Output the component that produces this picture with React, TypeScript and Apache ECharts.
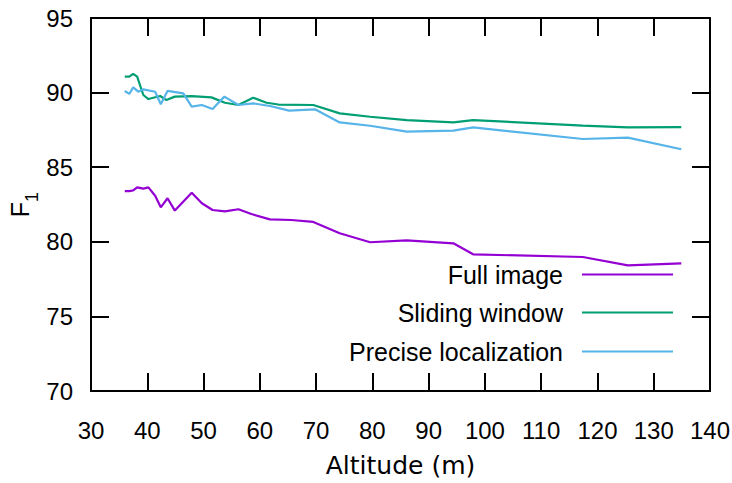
import React, { useEffect, useRef } from "react";
import * as echarts from "echarts";

const fullAlt = [36.0, 36.8, 37.5, 38.2, 39.3, 40.2, 41.4, 42.4, 43.6, 44.9, 47.9, 49.7, 51.6, 53.8, 56.2, 58.5, 61.8, 65.6, 69.5, 74.2, 79.6, 86.1, 94.4, 97.9, 117.4, 125.4, 134.9];
const fullF1 = [83.4, 83.4, 83.45, 83.65, 83.56, 83.65, 83.09, 82.31, 82.92, 82.09, 83.29, 82.58, 82.13, 82.04, 82.18, 81.86, 81.5, 81.46, 81.33, 80.57, 79.97, 80.1, 79.9, 79.16, 78.98, 78.42, 78.56];

const slidAlt = [36.0, 36.8, 37.5, 38.2, 39.3, 40.2, 42.3, 43.4, 44.9, 47.9, 51.4, 53.8, 56.2, 58.8, 61.2, 63.3, 69.5, 74.2, 79.6, 86.1, 94.4, 97.9, 117.4, 125.4, 134.9];
const slidF1 = [91.07, 91.07, 91.25, 91.07, 89.84, 89.57, 89.77, 89.5, 89.73, 89.77, 89.68, 89.32, 89.17, 89.66, 89.32, 89.2, 89.17, 88.61, 88.38, 88.16, 88.0, 88.16, 87.78, 87.67, 87.69];

const precAlt = [36.0, 36.8, 37.5, 38.4, 39.3, 41.4, 42.4, 43.6, 46.4, 47.9, 49.7, 51.6, 53.7, 56.2, 58.8, 61.8, 65.2, 69.8, 74.2, 79.6, 86.1, 94.4, 97.9, 117.4, 125.4, 134.9];
const precF1 = [90.11, 89.91, 90.35, 90.06, 90.22, 90.06, 89.22, 90.11, 89.95, 89.06, 89.17, 88.9, 89.73, 89.17, 89.28, 89.1, 88.79, 88.88, 88.0, 87.78, 87.38, 87.45, 87.67, 86.89, 86.98, 86.2];

const seriesNames = ["Full image", "Sliding window", "Precise localization"];
const seriesColors = ["#9400d3", "#009e73", "#56b4e9"];

const X_MIN = 30, X_MAX = 140, X_STEP = 10;
const Y_MIN = 70, Y_MAX = 95, Y_STEP = 5;

const zip = (xs: number[], ys: number[]) => xs.map((x, i) => [x, ys[i]]);

export default function App() {
  const ref = useRef<HTMLDivElement>(null);
  useEffect(() => {
    if (!ref.current) return;
    const chart = echarts.init(ref.current, null, { renderer: "svg" });
    const tickFont = "'Liberation Sans', Arial, sans-serif";
    const lineStyle = { color: "#000", width: 2 };
    const baseX = {
      type: "value" as const,
      min: X_MIN,
      max: X_MAX,
      interval: X_STEP,
      splitLine: { show: false },
      axisLine: { show: true, onZero: false, lineStyle },
      axisTick: { show: true, inside: true, length: 18, lineStyle },
    };
    const baseY = {
      type: "value" as const,
      min: Y_MIN,
      max: Y_MAX,
      interval: Y_STEP,
      splitLine: { show: false },
      axisLine: { show: true, onZero: false, lineStyle },
      axisTick: { show: true, inside: true, length: 18, lineStyle },
    };
    const datas = [zip(fullAlt, fullF1), zip(slidAlt, slidF1), zip(precAlt, precF1)];
    const legendTops = [262, 300, 339];
    chart.setOption({
      animation: false,
      grid: { left: 91, right: 22, top: 18, bottom: 92, containLabel: false, outerBoundsMode: "none" },
      xAxis: [
        {
          ...baseX,
          position: "bottom",
          name: "Altitude (m)",
          nameLocation: "middle",
          nameGap: 62,
          nameMoveOverlap: false,
          nameTextStyle: { fontFamily: "'DejaVu Sans', sans-serif", fontSize: 25, color: "#000" },
          axisLabel: { fontFamily: tickFont, fontSize: 24, color: "#000", margin: 27 },
        },
        { ...baseX, position: "top", axisLabel: { show: false } },
      ],
      yAxis: [
        {
          ...baseY,
          position: "left",
          name: "{a|F}{b|1}",
          nameLocation: "middle",
          nameRotate: 90,
          nameGap: 50,
          nameMoveOverlap: false,
          nameTextStyle: {
            color: "#000",
            rich: {
              a: { fontFamily: tickFont, fontSize: 25, color: "#000", lineHeight: 34, verticalAlign: "top" },
              b: { fontFamily: tickFont, fontSize: 18, color: "#000", lineHeight: 34, verticalAlign: "bottom", padding: [12, 0, 0, 0] },
            },
          },
          axisLabel: { fontFamily: tickFont, fontSize: 24, color: "#000", margin: 18 },
        },
        { ...baseY, position: "right", axisLabel: { show: false } },
      ],
      legend: seriesNames.map((n, i) => ({
        data: [n],
        right: 59,
        top: legendTops[i],
        orient: "horizontal",
        align: "right",
        icon: "rect",
        itemWidth: 91,
        itemHeight: 2,
        selectedMode: false,
        padding: 0,
        textStyle: { fontFamily: tickFont, fontSize: 25, color: "#000", padding: [0, 14, 0, 0] },
      })),
      series: seriesNames.map((n, i) => ({
        name: n,
        type: "line",
        xAxisIndex: 0,
        yAxisIndex: 0,
        data: datas[i],
        showSymbol: false,
        symbol: "none",
        color: seriesColors[i],
        lineStyle: { color: seriesColors[i], width: 2.2 },
        itemStyle: { color: seriesColors[i] },
      })),
    });
    return () => chart.dispose();
  }, []);
  return <div ref={ref} style={{ width: 732, height: 483, position: "absolute", left: 0, top: 0 }} />;
}
